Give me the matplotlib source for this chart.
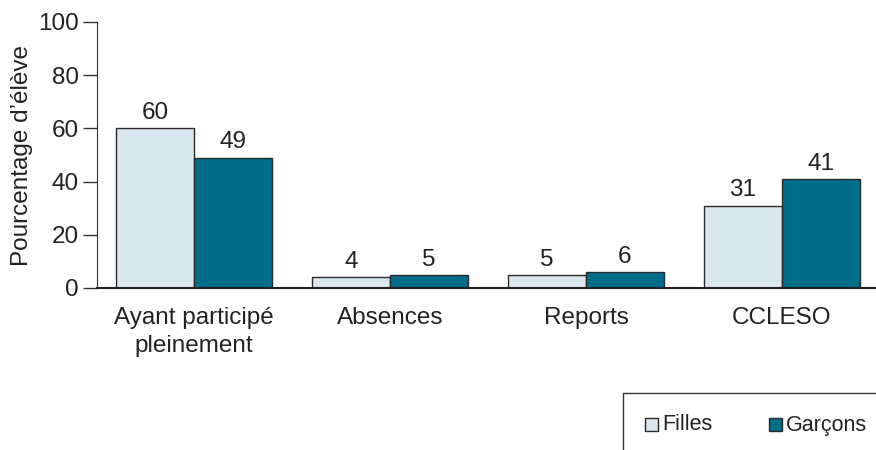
import numpy as np
import matplotlib.pyplot as plt
from matplotlib.patches import Rectangle

categories = ['Ayant participé\npleinement', 'Absences', 'Reports', 'CCLESO']
filles = [60, 4, 5, 31]
garcons = [49, 5, 6, 41]
series_names = ['Filles', 'Garçons']
yticks = [0, 20, 40, 60, 80, 100]

col_f = '#d9e7ee'
col_g = '#006d89'
edge = '#2a2a2a'
txt = '#222222'
fs = 17.5

plt.rcParams['font.family'] = ['Liberation Sans', 'DejaVu Sans']
W, H = 876, 450
fig = plt.figure(figsize=(W / 100, H / 100), dpi=100)
ax = fig.add_axes([97 / W, 1 - 288 / H, 1 - 97 / W, (288 - 22) / H])

x = np.arange(len(categories))
bw = 0.398
b1 = ax.bar(x - bw / 2, filles, bw, color=col_f, edgecolor=edge, linewidth=1)
b2 = ax.bar(x + bw / 2, garcons, bw, color=col_g, edgecolor=edge, linewidth=1)
for bars, vals in [(b1, filles), (b2, garcons)]:
    for r, v in zip(bars, vals):
        ax.annotate(str(v), (r.get_x() + r.get_width() / 2, v), xytext=(0, 3),
                    textcoords='offset points', ha='center', va='bottom',
                    fontsize=fs, color=txt)

ax.set_xlim(-0.495, 3.48)
ax.set_ylim(0, 100)
ax.set_yticks(yticks)
ax.set_xticks(x)
ax.set_xticklabels(categories, fontsize=fs, color=txt, linespacing=1.35)
ax.tick_params(axis='x', length=0, pad=14)
ax.tick_params(axis='y', labelsize=fs, labelcolor=txt, length=10,
               width=1, color='#333333', pad=3)
ax.set_ylabel("Pourcentage d\u2019élève", fontsize=fs, color=txt, labelpad=4)
for s in ['top', 'right']:
    ax.spines[s].set_visible(False)
ax.spines['left'].set_color('#333333')
ax.spines['bottom'].set_color('#222222')
ax.spines['bottom'].set_linewidth(1.5)

# legend box, cut by the figure edge as in the original
fig.patches.append(Rectangle((623 / W, -0.2), 0.5, (450 - 393) / H + 0.2,
                             transform=fig.transFigure, fill=False,
                             edgecolor='#333333', linewidth=1))
for i, (name, c) in enumerate(zip(series_names, [col_f, col_g])):
    x0 = [645, 769][i]
    fig.patches.append(Rectangle((x0 / W, 1 - 431 / H), 13 / W, 13 / H,
                                 transform=fig.transFigure, facecolor=c,
                                 edgecolor=edge, linewidth=1))
    fig.text((x0 + 17) / W, 1 - 425 / H, name, fontsize=15.5, color=txt,
             va='center', ha='left')

fig.savefig('out.png', dpi=100)
